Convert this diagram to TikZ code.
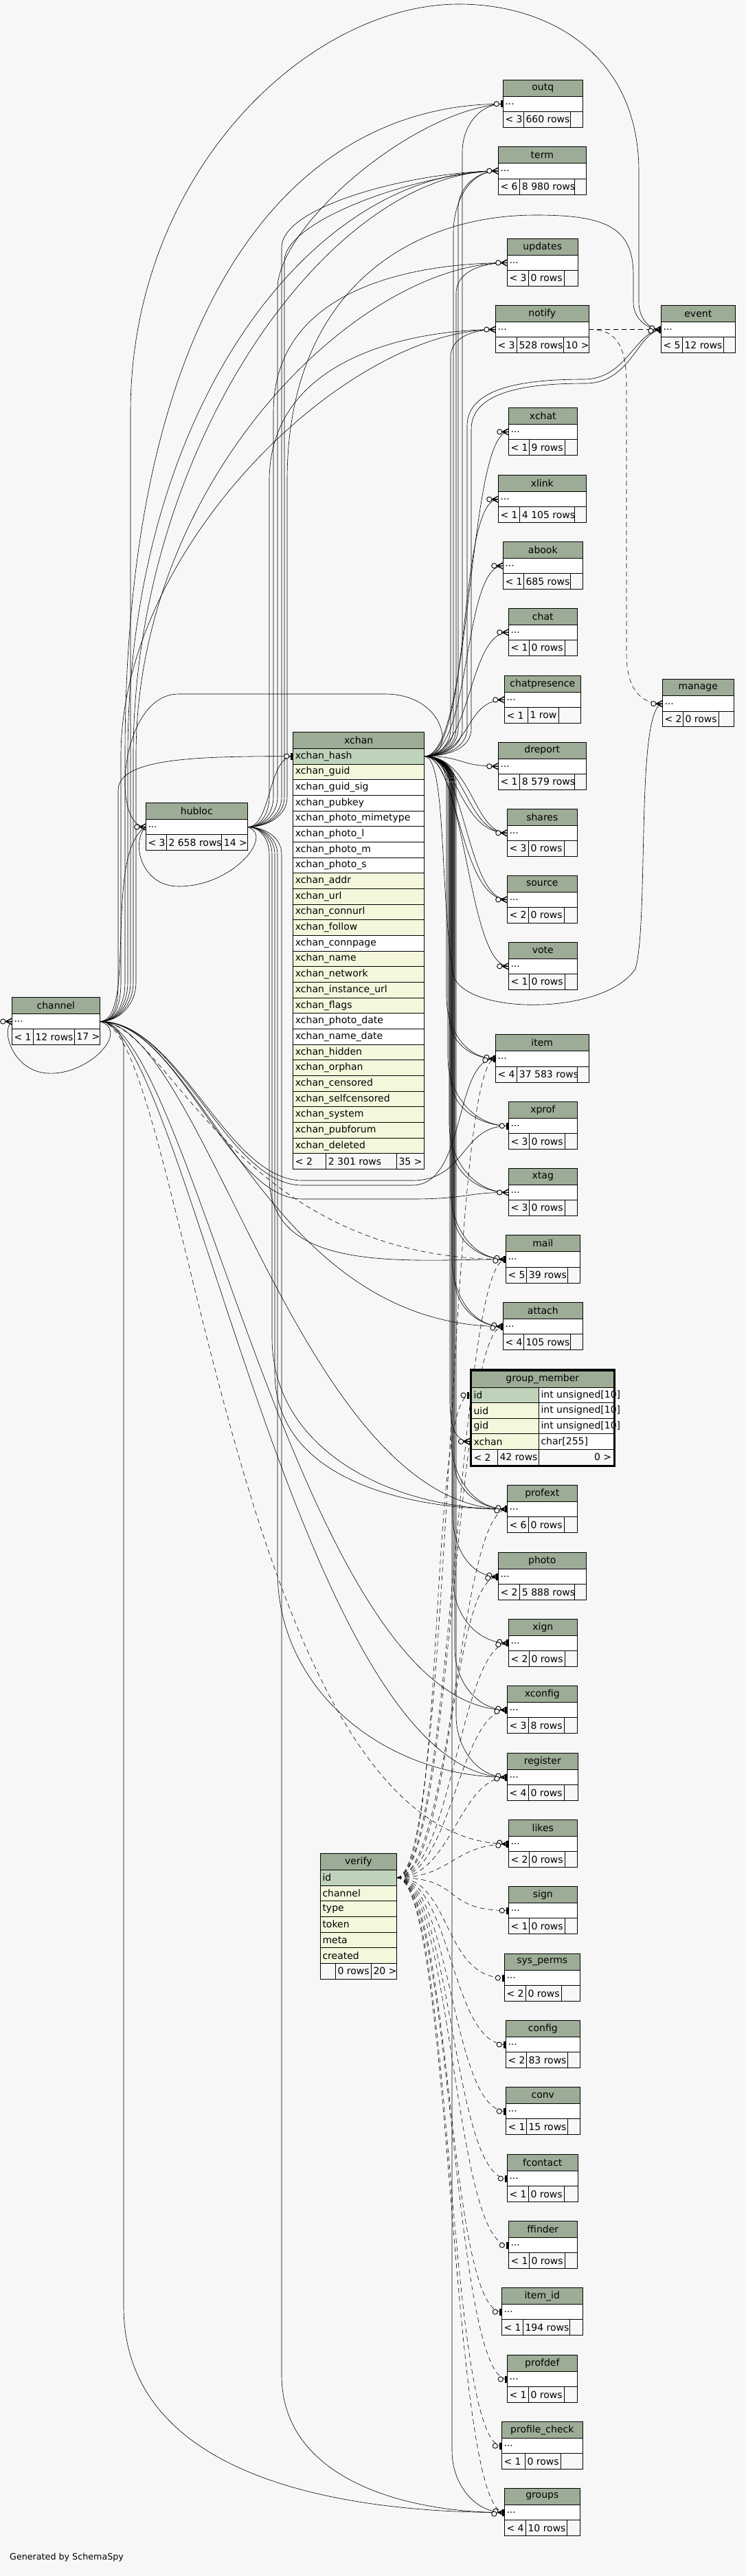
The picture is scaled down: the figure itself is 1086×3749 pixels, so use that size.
\documentclass[tikz,border=0pt]{standalone}
\usepackage{fontspec}
\setmainfont{DejaVu Sans}
\usetikzlibrary{positioning, calc, backgrounds}

\definecolor{PageGrey}{HTML}{F7F7F7}
\definecolor{HeadGreen}{HTML}{9DAC96}
\definecolor{KeyGreen}{HTML}{BFD3BB}
\definecolor{IndexYellow}{HTML}{F4F7DC}

\newcommand{\cellfont}{\fontsize{14}{16}\selectfont}

\tikzset{
    tline/.style={
        draw=black,
        line width=0.9pt
    },
    ttl/.style={
        font=\cellfont,
        text=black,
        inner sep=0pt,
        anchor=center
    },
    cell/.style={
        font=\cellfont,
        text=black,
        anchor=west,
        inner xsep=3pt,
        inner ysep=0pt
    },
    fk/.style={
        draw=black,
        line width=0.6pt
    },
    imp/.style={
        draw=black,
        line width=0.6pt,
        dash pattern=on 7pt off 5pt
    },
    mk/.style={
        draw=black,
        line width=0.9pt
    }
}

% collapsed table: name, left, top, right, bottom, divider 1, divider 2, parents, rows
\newcommand{\tbl}[9]{%
    \pgfmathsetmacro{\tya}{#3+24}%
    \pgfmathsetmacro{\tyb}{#3+24+0.5*(#5-#3-24)}%
    \fill[HeadGreen] (#2,#3) rectangle (#4,\tya);
    \fill[white] (#2,\tya) rectangle (#4,\tyb);
    \fill[PageGrey] (#2,\tyb) rectangle (#4,#5);
    \draw[tline] (#2,#3) rectangle (#4,#5) (#2,\tya) -- (#4,\tya) (#2,\tyb) -- (#4,\tyb)
        (#6,\tyb) -- (#6,#5) (#7,\tyb) -- (#7,#5);
    \node[ttl] (#1) at ({(#2+#4)/2},{(#3+\tya)/2}) {\detokenize{#1}};
    \node[cell] at (#2,{(\tya+\tyb)/2}) {...};
    \node[cell] at (#2,{(\tyb+#5)/2}) {#8};
    \begin{scope}
        \clip (#6,\tyb) rectangle (#7,#5);
        \node[cell] at (#6,{(\tyb+#5)/2}) {#9};
    \end{scope}
    \coordinate (#1-in) at (#2,{(\tya+\tyb)/2});
    \coordinate (#1-out) at (#4,{(\tya+\tyb)/2});
}

% connectors
\newcommand{\fkto}[5][fk]{\draw[#1] (#2) .. controls +(#4,0) and +(-#5,0) .. (#3);}
\newcommand{\fkdn}[5][fk]{\draw[#1] let \p1=(#2), \p2=(#4) in
    (#2) to[out=0,in=90] (#3pt,\y1-40pt) -- (#3pt,\y2+#5pt) to[out=-90,in=180] (#4);}
\newcommand{\fkup}[5][fk]{\draw[#1] let \p1=(#2), \p2=(#4) in
    (#2) to[out=0,in=-90] (#3pt,\y1+40pt) -- (#3pt,\y2-#5pt) to[out=90,in=180] (#4);}

% ends at the child table
\newcommand{\crowmk}[1]{%
    \begin{scope}[shift={(#1)}]
        \draw[mk, line width=1.4pt] (0,-4.5) -- (-9,0) -- (0,4.5) (-9,0) -- (0,0);
        \draw[mk, fill=PageGrey] (-13,0) circle[radius=3.6pt];
    \end{scope}}
\newcommand{\barmk}[1]{%
    \begin{scope}[shift={(#1)}]
        \fill (-3.6,-5) rectangle (-0.6,5);
        \draw[mk, fill=PageGrey] (-9.5,0) circle[radius=3.6pt];
    \end{scope}}
\newcommand{\bothmk}[1]{%
    \begin{scope}[shift={(#1)}]
        \draw[mk, line width=1.4pt] (0,-4.5) -- (-9,0) -- (0,4.5) (-9,0) -- (0,0);
        \fill (-3.6,-5) rectangle (-0.6,5);
        \draw[mk, fill=PageGrey] (-13,-2) circle[radius=3.6pt];
        \draw[mk, fill=PageGrey] (-15,2) circle[radius=3.6pt];
    \end{scope}}

\begin{document}
\begin{tikzpicture}[x=1pt, y=-1pt]
    \begin{scope}[on background layer]
        \fill[PageGrey] (0,0) rectangle (1086,3749);
    \end{scope}
    \useasboundingbox (0,0) rectangle (1086,3749);

    \tbl{outq}{732.3}{116}{848.3}{185}{762.3}{830.7}{< 3}{660 rows}
    \tbl{term}{725.3}{213.3}{853.3}{283}{756.7}{836.3}{< 6}{8 980 rows}
    \tbl{updates}{738.3}{347.3}{841.3}{416}{769.3}{821.7}{< 3}{0 rows}
    \tbl{notify}{721.3}{444.3}{857.3}{513.3}{752.3}{820.3}{< 3}{528 rows}
    \node[cell] at (820.3,502.05) {10 >};
    \tbl{event}{962.3}{444.3}{1070.3}{513.3}{993.3}{1053.3}{< 5}{12 rows}
    \tbl{xchat}{740.3}{593.2}{840.3}{662.2}{770.3}{822.3}{< 1}{9 rows}
    \tbl{xlink}{725.3}{691.4}{853.3}{760.4}{756.7}{836.3}{< 1}{4 105 rows}
    \tbl{abook}{732.3}{788.2}{848.3}{857.2}{762.3}{830.7}{< 1}{685 rows}
    \tbl{chat}{740.3}{885}{840.3}{954}{770.3}{822.3}{< 1}{0 rows}
    \tbl{chatpresence}{734.3}{983.2}{845.3}{1052.2}{768.3}{813.3}{< 1}{1 row}
    \tbl{manage}{964.3}{988.9}{1068.3}{1057.9}{994.3}{1046.3}{< 2}{0 rows}
    \tbl{dreport}{725.3}{1080}{853.3}{1149}{756.7}{836.3}{< 1}{8 579 rows}
    \tbl{shares}{738.3}{1177}{840.3}{1246}{769.3}{821.3}{< 3}{0 rows}
    \tbl{source}{738.3}{1274}{840.3}{1343}{769.3}{821.3}{< 2}{0 rows}
    \tbl{vote}{740.3}{1371}{840.3}{1440}{770.3}{822.3}{< 1}{0 rows}
    \tbl{item}{721.3}{1505.3}{857.3}{1575.3}{752.7}{840.3}{< 4}{37 583 rows}
    \tbl{xprof}{740.3}{1603.3}{840.3}{1672.3}{770.3}{822.3}{< 3}{0 rows}
    \tbl{xtag}{740.3}{1700.3}{840.3}{1769}{770.3}{822.3}{< 3}{0 rows}
    \tbl{mail}{736.3}{1797.3}{844.3}{1867.3}{766.7}{826.7}{< 5}{39 rows}
    \tbl{attach}{732.3}{1895.3}{848.3}{1964.3}{762.3}{830.7}{< 4}{105 rows}
    \tbl{profext}{738.3}{2161.2}{840.3}{2230.2}{769.3}{821.3}{< 6}{0 rows}
    \tbl{photo}{725.3}{2259.4}{853.3}{2328.4}{756.7}{836.3}{< 2}{5 888 rows}
    \tbl{xign}{740.3}{2356.2}{840.3}{2425.2}{770.3}{822.3}{< 2}{0 rows}
    \tbl{xconfig}{738.3}{2453.4}{840.3}{2522.4}{769.3}{821.3}{< 3}{8 rows}
    \tbl{register}{738.3}{2551.3}{841.3}{2620.3}{769.3}{821.3}{< 4}{0 rows}
    \tbl{likes}{740.3}{2648.4}{840.3}{2717.4}{770.3}{822.3}{< 2}{0 rows}
    \tbl{sign}{740.3}{2745.3}{840.3}{2814.3}{770.3}{822.3}{< 1}{0 rows}
    \tbl{sys_perms}{734.3}{2843.3}{844.3}{2912.3}{765.3}{817.3}{< 2}{0 rows}
    \tbl{config}{736.3}{2940.3}{844.3}{3009.3}{766.3}{826.3}{< 2}{83 rows}
    \tbl{conv}{736.3}{3037.3}{844.3}{3106.3}{766.3}{826.3}{< 1}{15 rows}
    \tbl{fcontact}{738.3}{3135.3}{841.3}{3204.3}{769.3}{821.3}{< 1}{0 rows}
    \tbl{ffinder}{740.3}{3232.3}{840.3}{3301.3}{770.3}{822.3}{< 1}{0 rows}
    \tbl{item_id}{730.3}{3329.3}{848.3}{3398.3}{761.3}{829.3}{< 1}{194 rows}
    \tbl{profdef}{738.3}{3427.3}{840.3}{3496.3}{769.3}{821.3}{< 1}{0 rows}
    \tbl{profile_check}{730.3}{3524.3}{848.3}{3593.3}{764.3}{816.3}{< 1}{0 rows}
    \tbl{groups}{734.3}{3621.3}{844.3}{3690.3}{765.3}{825.3}{< 4}{10 rows}

    \tbl{hubloc}{212.3}{1168.3}{360.3}{1237.3}{242.3}{322.7}{< 3}{2 658 rows}
    \node[cell] at (322.7,1226.05) {14 >};
    \tbl{channel}{17.3}{1451.3}{145.3}{1520.3}{48.3}{108.3}{< 1}{12 rows}
    \node[cell] at (108.3,1508.8) {17 >};

    % xchan
    \draw[tline, fill=HeadGreen] (426.7,1065.3) rectangle (617.7,1089.3);
    \node[ttl] (xchan) at (522.2,1077.3) {xchan};
    \foreach \nm/\cl [count=\i from 0] in {xchan\_hash/KeyGreen, xchan\_guid/IndexYellow,
        xchan\_guid\_sig/white, xchan\_pubkey/white, xchan\_photo\_mimetype/white,
        xchan\_photo\_l/white, xchan\_photo\_m/white, xchan\_photo\_s/white,
        xchan\_addr/IndexYellow, xchan\_url/IndexYellow, xchan\_connurl/IndexYellow,
        xchan\_follow/IndexYellow, xchan\_connpage/white, xchan\_name/IndexYellow,
        xchan\_network/IndexYellow, xchan\_instance\_url/IndexYellow, xchan\_flags/IndexYellow,
        xchan\_photo\_date/white, xchan\_name\_date/white, xchan\_hidden/IndexYellow,
        xchan\_orphan/IndexYellow, xchan\_censored/IndexYellow, xchan\_selfcensored/IndexYellow,
        xchan\_system/IndexYellow, xchan\_pubforum/IndexYellow, xchan\_deleted/IndexYellow} {
        \draw[tline, fill=\cl] (426.7,{1089.3+22.67*\i}) rectangle (617.7,{1089.3+22.67*(\i+1)});
        \node[cell] at (426.7,{1100.6+22.67*\i}) {\nm};
    }
    \draw[tline, fill=PageGrey] (426.7,1678.7) rectangle (617.7,1701.4);
    \draw[tline] (474.7,1678.7) -- (474.7,1701.4) (577.3,1678.7) -- (577.3,1701.4);
    \node[cell] at (426.7,1690.05) {< 2};
    \node[cell] at (474.7,1690.05) {2 301 rows};
    \node[cell] at (577.3,1690.05) {35 >};
    \coordinate (xchan-in) at (426.7,1100.6);
    \coordinate (xchan-out) at (617.7,1100.6);

    % group_member
    \draw[tline, fill=HeadGreen] (686.3,1995) rectangle (893.3,2019.3);
    \node[ttl] (group_member) at (789.8,2007.15) {group\_member};
    \foreach \nm/\cl [count=\i from 0] in {id/KeyGreen, uid/IndexYellow, gid/IndexYellow, xchan/IndexYellow} {
        \draw[tline, fill=\cl] (686.3,{2019.3+22.5*\i}) rectangle (784.3,{2041.8+22.5*\i});
        \draw[tline, fill=white] (784.3,{2019.3+22.5*\i}) rectangle (893.3,{2041.8+22.5*\i});
        \node[cell] at (686.3,{2030.55+22.5*\i}) {\nm};
    }
    \draw[tline, fill=PageGrey] (686.3,2109.3) rectangle (893.3,2132.3);
    \draw[tline] (724.3,2109.3) -- (724.3,2132.3) (784.3,2109.3) -- (784.3,2132.3);
    \node[cell] at (686.3,2120.8) {< 2};
    \node[cell] at (724.3,2120.8) {42 rows};
    \node[cell, anchor=east] at (893.3,2120.8) {0 >};
    \draw[line width=2.6pt] (685,1993.4) rectangle (894.4,2133.2);
    \foreach \ty [count=\i from 0] in {int unsigned[10], int unsigned[10], int unsigned[10], char[255]}
        \node[cell] at (784.3,{2030.55+22.5*\i}) {\ty};
    \coordinate (gm-id-in) at (684,2030.5);
    \coordinate (gm-x-in) at (684,2098);

    % verify
    \draw[tline, fill=HeadGreen] (466.3,2697.3) rectangle (577.3,2721.3);
    \node[ttl] (verify) at (521.8,2709.3) {verify};
    \foreach \nm/\cl [count=\i from 0] in {id/KeyGreen, channel/IndexYellow, type/IndexYellow,
        token/IndexYellow, meta/IndexYellow, created/IndexYellow} {
        \draw[tline, fill=\cl] (466.3,{2721.3+22.67*\i}) rectangle (577.3,{2721.3+22.67*(\i+1)});
        \node[cell] at (466.3,{2732.6+22.67*\i}) {\nm};
    }
    \draw[tline, fill=PageGrey] (466.3,2857.3) rectangle (577.3,2880.3);
    \draw[tline] (488.3,2857.3) -- (488.3,2880.3) (540.3,2857.3) -- (540.3,2880.3);
    \node[cell] at (488.3,2868.8) {0 rows};
    \node[cell] at (540.3,2868.8) {20 >};
    \coordinate (verify-out) at (577.3,2732.6);

    \node[cell, font=\fontsize{12.7}{15}\selectfont, inner xsep=0pt] (credit) at (14,3722) {Generated by SchemaSpy};

    \begin{scope}[on background layer]
        % from xchan, upwards
        \fkup{xchan-out}{660}{term-in}{90}
        \fkup{xchan-out}{667}{term-in}{55}
        \fkup{xchan-out}{673}{outq-in}{70}
        \fkup{xchan-out}{664}{updates-in}{45}
        \fkup{xchan-out}{656}{notify-in}{40}
        \draw[fk] (xchan-out) to[out=0,in=-90] (680,1060) -- (680,620)
            .. controls (680,565) and (760,552) .. (850,552) .. controls (912,552) and (925,482) .. (event-in);
        \draw[fk] (xchan-out) to[out=0,in=-90] (686,1060) -- (686,625)
            .. controls (686,570) and (765,558) .. (852,558) .. controls (918,558) and (928,484) .. (event-in);
        \fkto{xchan-out}{xchat-in}{70}{60}
        \fkto{xchan-out}{xlink-in}{70}{60}
        \fkto{xchan-out}{abook-in}{70}{60}
        \fkto{xchan-out}{chat-in}{70}{60}
        \fkto{xchan-out}{chatpresence-in}{70}{60}
        \fkto{xchan-out}{dreport-in}{60}{60}
        \fkto{xchan-out}{shares-in}{60}{60}
        \fkto{xchan-out}{shares-in}{50}{70}
        \fkto{xchan-out}{shares-in}{70}{50}
        \fkto{xchan-out}{source-in}{60}{60}
        \fkto{xchan-out}{source-in}{50}{70}
        \fkto{xchan-out}{vote-in}{60}{60}
        \draw[fk] (xchan-out) .. controls (650,1101) and (640,1300) .. (660,1420)
            .. controls (680,1478) and (880,1478) .. (925,1410) .. controls (945,1340) and (925,1030) .. (manage-in);
        % from xchan, downwards
        \fkdn{xchan-out}{650}{item-in}{90}
        \fkdn{xchan-out}{654}{item-in}{60}
        \fkdn{xchan-out}{652}{xprof-in}{100}
        \fkdn{xchan-out}{656}{xprof-in}{70}
        \fkdn{xchan-out}{654}{xtag-in}{100}
        \fkdn{xchan-out}{658}{xtag-in}{70}
        \fkdn{xchan-out}{656}{mail-in}{100}
        \fkdn{xchan-out}{660}{mail-in}{70}
        \fkdn{xchan-out}{658}{attach-in}{100}
        \fkdn{xchan-out}{662}{attach-in}{70}
        \fkdn{xchan-out}{655}{gm-x-in}{60}
        \fkdn{xchan-out}{657}{profext-in}{100}
        \fkdn{xchan-out}{661}{profext-in}{70}
        \fkdn{xchan-out}{659}{photo-in}{90}
        \fkdn{xchan-out}{660}{xign-in}{90}
        \fkdn{xchan-out}{662}{xconfig-in}{90}
        \fkdn{xchan-out}{664}{register-in}{90}
        \fkdn{xchan-out}{658}{groups-in}{90}
        \draw[fk] (xchan-out) .. controls (665,1101) and (650,1010) .. (560,1010) -- (260,1010)
            .. controls (175,1010) and (160,1204) .. (hubloc-in);

        % from channel
        \draw[fk] (channel-out) to[out=0,in=-90] (190,1430) -- (190,600)
            .. controls (190,250) and (450,6) .. (668,6) .. controls (800,6) and (930,80) .. (930,250)
            -- (930,440) to[out=-90,in=180] (event-in);
        \draw[fk] (channel-out) to[out=0,in=-90] (182,1430) -- (182,1100) .. controls (182,450) and (420,151) .. (outq-in);
        \draw[fk] (channel-out) to[out=0,in=-90] (186,1430) -- (186,1100) .. controls (186,600) and (450,248) .. (term-in);
        \draw[fk] (channel-out) to[out=0,in=-90] (194,1430) -- (194,1100) .. controls (194,650) and (480,248) .. (term-in);
        \draw[fk] (channel-out) to[out=0,in=-90] (198,1430) -- (198,1100) .. controls (198,700) and (520,383) .. (updates-in);
        \draw[fk] (channel-out) to[out=0,in=-90] (176,1430) -- (176,1100) .. controls (176,800) and (500,480) .. (notify-in);
        \draw[fk] (channel-out) to[out=0,in=-90] (172,1430) -- (172,1150) .. controls (172,1101) and (300,1101) .. (xchan-in);
        \draw[fk] (channel-out) .. controls (200,1486) and (150,1240) .. (hubloc-in);
        \draw[fk] (channel-out) .. controls (190,1500) and (130,1565) .. (70,1562) .. controls (20,1560) and (0,1500) .. (channel-in);
        \draw[fk] (channel-out) .. controls (260,1486) and (330,1725) .. (440,1725) -- (600,1725)
            .. controls (680,1725) and (660,1540) .. (item-in);
        \draw[fk] (channel-out) .. controls (260,1486) and (330,1718) .. (440,1718) -- (600,1718)
            .. controls (680,1718) and (670,1638) .. (xprof-in);
        \draw[fk] (channel-out) .. controls (260,1486) and (330,1745) .. (440,1745) -- (600,1745)
            .. controls (680,1745) and (680,1735) .. (xtag-in);
        \fkto[imp]{channel-out}{mail-in}{100}{400}
        \fkto{channel-out}{attach-in}{150}{350}
        \fkto{channel-out}{profext-in}{150}{300}
        \fkto{channel-out}{xconfig-in}{130}{300}
        \fkto{channel-out}{register-in}{120}{300}
        \fkdn{channel-out}{180}{groups-in}{300}
        \fkto[imp]{channel-out}{likes-in}{120}{400}

        % from hubloc
        \draw[fk] (hubloc-out) to[out=0,in=-90] (404,1160) -- (404,420) .. controls (404,330) and (600,160) .. (outq-in);
        \draw[fk] (hubloc-out) to[out=0,in=-90] (410,1160) -- (410,360) .. controls (410,300) and (600,250) .. (term-in);
        \draw[fk] (hubloc-out) to[out=0,in=-90] (414,1160) -- (414,380) .. controls (414,320) and (610,252) .. (term-in);
        \draw[fk] (hubloc-out) to[out=0,in=-90] (398,1160) -- (398,600) .. controls (398,420) and (600,383) .. (updates-in);
        \draw[fk] (hubloc-out) to[out=0,in=-90] (392,1160) -- (392,700) .. controls (392,520) and (600,480) .. (notify-in);
        \draw[fk] (hubloc-out) to[out=0,in=-90] (418,1160) -- (418,700) .. controls (418,420) and (600,313) .. (780,313)
            .. controls (880,313) and (922,330) .. (922,400) -- (922,440) to[out=-90,in=180] (event-in);
        \draw[fk] (hubloc-out) .. controls (395,1204) and (390,1101) .. (xchan-in);
        \draw[fk] (hubloc-out) .. controls (400,1215) and (340,1290) .. (260,1290) .. controls (205,1290) and (190,1225) .. (hubloc-in);
        \fkdn{hubloc-out}{392}{mail-in}{120}
        \fkdn{hubloc-out}{396}{profext-in}{250}
        \fkdn{hubloc-out}{400}{profext-in}{200}
        \fkdn{hubloc-out}{404}{register-in}{300}
        \fkdn{hubloc-out}{410}{groups-in}{200}

        % from notify
        \draw[imp] (notify-out) -- (event-in);
        \draw[imp] (notify-out) .. controls (895,479) and (912,500) .. (912,560) -- (912,950)
            .. controls (912,1000) and (930,1024) .. (manage-in);

        % from verify
        \fkto[imp]{verify-out}{item-in}{80}{70}
        \fkto[imp]{verify-out}{mail-in}{80}{70}
        \fkto[imp]{verify-out}{attach-in}{80}{70}
        \fkto[imp]{verify-out}{gm-id-in}{70}{60}
        \fkto[imp]{verify-out}{profext-in}{80}{70}
        \fkto[imp]{verify-out}{photo-in}{80}{70}
        \fkto[imp]{verify-out}{xign-in}{80}{70}
        \fkto[imp]{verify-out}{xconfig-in}{80}{70}
        \fkto[imp]{verify-out}{register-in}{80}{70}
        \fkto[imp]{verify-out}{likes-in}{80}{80}
        \fkto[imp]{verify-out}{sign-in}{100}{100}
        \fkto[imp]{verify-out}{sys_perms-in}{80}{90}
        \fkto[imp]{verify-out}{config-in}{80}{80}
        \fkto[imp]{verify-out}{conv-in}{80}{80}
        \fkto[imp]{verify-out}{fcontact-in}{80}{80}
        \fkto[imp]{verify-out}{ffinder-in}{80}{80}
        \fkto[imp]{verify-out}{item_id-in}{80}{80}
        \fkto[imp]{verify-out}{profdef-in}{80}{80}
        \fkto[imp]{verify-out}{profile_check-in}{80}{80}
        \fkto[imp]{verify-out}{groups-in}{80}{80}
    \end{scope}

    \foreach \tb in {term, updates, notify, xchat, xlink, abook, chat, chatpresence, manage,
        dreport, shares, source, vote, xtag, hubloc, channel, gm-x}
        \crowmk{\tb-in};
    \foreach \tb in {outq, xprof, sign, sys_perms, config, conv, fcontact, ffinder,
        item_id, profdef, profile_check, gm-id, xchan}
        \barmk{\tb-in};
    \foreach \tb in {event, item, mail, attach, profext, photo, xign, xconfig, register, likes, groups}
        \bothmk{\tb-in};
\end{tikzpicture}
\end{document}
